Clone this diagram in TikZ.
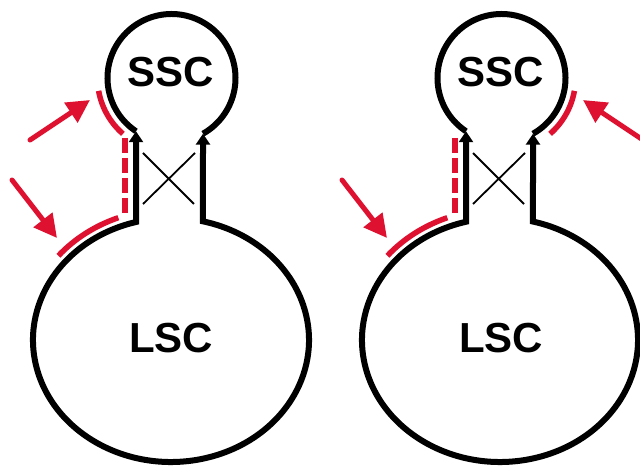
\documentclass[tikz,border=0pt]{standalone}
\usepackage{fontspec}
\setmainfont{Liberation Sans}
\usetikzlibrary{arrows.meta,calc}
\definecolor{signal}{RGB}{222,18,48}
\begin{document}
\begin{tikzpicture}[x=1pt,y=1pt,
  outline/.style={line width=6pt,line join=miter},
  necktips/.style={{Triangle[length=11pt,width=14pt]}-{Triangle[length=11pt,width=14pt]}},
  crossline/.style={line width=1.8pt},
  redarc/.style={signal,line width=5.5pt},
  reddash/.style={signal,line width=6pt,dash pattern=on 15pt off 5pt},
  pointer/.style={signal,line width=5pt,line cap=round,-{Triangle[length=23pt,width=23pt]}},
  lbl/.style={font=\fontsize{42}{42}\selectfont\bfseries,inner sep=0pt}]
\useasboundingbox (0,0) rectangle (640,466);
\clip (0,0) rectangle (640,466);

% two identical cavities: small chamber (SSC) on a neck above a large chamber (LSC)
\foreach \ox/\lx in {0/171,330/500}{
  \pgfmathsetmacro\fSx{171.5+\ox}
  \pgfmathsetmacro\fNl{136+\ox}
  \pgfmathsetmacro\fNr{203+\ox}
  \pgfmathsetmacro\fAl{360-acos((\fNl-\fSx)/64)}
  \pgfmathsetmacro\fAr{-acos((\fNr-\fSx)/64)}
  \pgfmathsetmacro\fTl{acos((\fNl-\lx)/138)}
  \pgfmathsetmacro\fTr{360+acos((\fNr-\lx)/138)}
  \pgfmathsetmacro\fTipL{388+64*sin(\fAl)}
  \pgfmathsetmacro\fTipR{388+64*sin(\fAr)}
  \pgfmathsetmacro\fJL{126+122*sin(\fTl)}
  \pgfmathsetmacro\fJR{126+122*sin(\fTr)}
  \coordinate (tipL-\ox) at (\fNl,\fTipL);
  \coordinate (tipR-\ox) at (\fNr,\fTipR);
  \coordinate (jL-\ox) at (\fNl,\fJL);
  \coordinate (jR-\ox) at (\fNr,\fJR);
  % small chamber
  \draw[outline] (tipL-\ox) arc[start angle=\fAl,end angle=\fAr,radius=64pt];
  % neck walls and large chamber
  \draw[outline,necktips] (tipL-\ox) -- (jL-\ox)
    arc[start angle=\fTl,end angle=\fTr,x radius=138pt,y radius=122pt] -- (tipR-\ox);
  % crossed connection inside the neck
  \coordinate (xa-\ox) at (143+\ox,313);
  \coordinate (xb-\ox) at (194+\ox,262);
  \coordinate (xc-\ox) at (143+\ox,262);
  \coordinate (xd-\ox) at (195+\ox,313);
  \draw[crossline] (xa-\ox) -- (xb-\ox);
  \draw[crossline] (xc-\ox) -- (xd-\ox);
  \node[lbl] (ssc-\ox) at (171+\ox,394) {SSC};
  \node[lbl] (lsc-\ox) at (171+\ox,128) {LSC};
}

% highlighted walls, left cavity
\draw[redarc] (171.5,388) ++(190:74pt) arc[start angle=190,end angle=229,radius=74pt];
\draw[reddash] (125,328) -- (125,252);
\draw[redarc] (171,126) ++(111:147pt and 131pt)
  arc[start angle=111,end angle=140,x radius=147pt,y radius=131pt];

% highlighted walls, right cavity
\draw[reddash] (455,328) -- (455,253);
\draw[redarc] (500,126) ++(111:147pt and 131pt)
  arc[start angle=111,end angle=140,x radius=147pt,y radius=131pt];
\draw[redarc] (501.5,388) ++(-10:74pt) arc[start angle=-10,end angle=-49,radius=74pt];

% pointers
\coordinate (pa0) at (30,326);  \coordinate (pa1) at (90,366);
\coordinate (pb0) at (12,286);  \coordinate (pb1) at (57,228);
\coordinate (pc0) at (342,286); \coordinate (pc1) at (387,228);
\coordinate (pd0) at (643,326); \coordinate (pd1) at (583,366);
\draw[pointer] (pa0) -- (pa1);
\draw[pointer] (pb0) -- (pb1);
\draw[pointer] (pc0) -- (pc1);
\draw[pointer] (pd0) -- (pd1);
\end{tikzpicture}
\end{document}
